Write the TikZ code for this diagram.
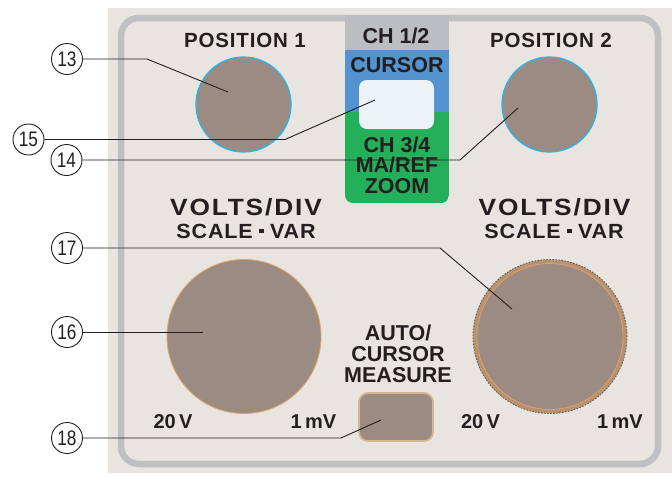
\documentclass[tikz,border=0pt]{standalone}
\usepackage{fontspec}
\usepackage{graphicx}
\setmainfont{Liberation Sans}
\newfontfamily\callfam{Liberation Sans}
\definecolor{beige}{HTML}{E8E4DF}
\definecolor{frame}{HTML}{BEC0C4}
\definecolor{knob}{HTML}{9B8B83}
\definecolor{cyanring}{HTML}{2DB4E6}
\definecolor{orangering}{HTML}{E0A262}
\definecolor{tanring}{HTML}{B89270}
\definecolor{btnedge}{HTML}{D6B690}
\definecolor{chgray}{HTML}{BCBDC1}
\definecolor{chblue}{HTML}{5393D0}
\definecolor{chgreen}{HTML}{24AF5A}
\definecolor{chlight}{HTML}{EBF3F9}
\definecolor{ink}{HTML}{231F20}
\newcommand{\fpos}{\fontsize{20.5}{24}\selectfont\bfseries\addfontfeature{LetterSpace=4}}
\newcommand{\fch}{\fontsize{21.5}{24}\selectfont\bfseries}
\newcommand{\fvolt}{\fontsize{23.5}{26}\selectfont\bfseries\addfontfeature{LetterSpace=7}}
\newcommand{\fscale}{\fontsize{20.5}{24}\selectfont\bfseries\addfontfeature{LetterSpace=4}}
\newcommand{\frange}{\fontsize{20}{24}\selectfont\bfseries}
\newcommand{\fcall}{\fontsize{21}{24}\selectfont\callfam}
\newcommand{\cnum}[1]{\scalebox{0.82}[1]{#1}}
\newcommand{\wide}[1]{\scalebox{1.12}[1]{#1}}
\newcommand{\sdot}{\hspace{0.3em}\raisebox{0.24em}{\rule{0.2em}{0.2em}}\hspace{0.3em}}
\begin{document}
\begin{tikzpicture}[x=1pt,y=-1pt,
  lbl/.style={text=ink, inner sep=0pt, anchor=base},
  callout/.style={circle, draw=ink, line width=0.9pt, fill=white, minimum size=31pt, inner sep=0pt, font=\fcall, text=ink},
  leader/.style={draw=ink, line width=0.9pt},
  smallknob/.style={circle, minimum size=95pt, inner sep=0pt, fill=knob, draw=cyanring, line width=1.3pt},
  bigknob/.style={circle, minimum size=154pt, inner sep=0pt, fill=knob, draw=orangering, line width=0.8pt}]
\useasboundingbox (0,0) rectangle (672,477);
\fill[white] (0,0) rectangle (672,477);
\fill[beige] (108,8) rectangle (672,473);
\draw[frame, line width=6.5pt, rounded corners=18pt] (121,18) rectangle (658,464);
% center block
\begin{scope}
\clip[rounded corners=8pt] (345,0) rectangle (449,203);
\fill[chgray] (345,15) rectangle (449,50);
\fill[chblue] (345,50) rectangle (449,112);
\fill[chgreen] (345,112) rectangle (449,203);
\end{scope}
\node[fill=chlight, rounded corners=8pt, minimum width=75pt, minimum height=49pt, inner sep=0pt] (cursorbtn) at (396.5,104.5) {};
% knobs
\node[smallknob] (pos1knob) at (243.5,104.5) {};
\node[smallknob] (pos2knob) at (549.5,104.5) {};
\node[bigknob] (volt1) at (244,336.5) {};
\node[circle, minimum size=154pt, inner sep=0pt, fill=tanring, draw=ink!75, dash pattern=on 1.5pt off 1.5pt, line width=0.8pt] (volt2) at (550,336.5) {};
\node[circle, minimum size=146pt, inner sep=0pt, fill=knob, draw=orangering, line width=0.8pt] (volt2in) at (550,336.5) {};
\node[rounded corners=9pt, minimum width=74pt, minimum height=48pt, inner sep=0pt, fill=knob, draw=btnedge, line width=1.8pt] (measure) at (396,417) {};
% labels
\node[lbl, font=\fpos] (pos1) at (245,47) {POSITION 1};
\node[lbl, font=\fpos] (pos2) at (551,47) {POSITION 2};
\node[lbl, font=\fch] (ch12) at (396,43) {CH 1/2};
\node[lbl, font=\fch] (curs) at (397,72) {CURSOR};
\node[lbl, font=\fch] (ch34) at (397,152) {CH 3/4};
\node[lbl, font=\fch] (maref) at (397,172) {MA/REF};
\node[lbl, font=\fch] (zoom) at (397,193) {ZOOM};
\node[lbl, font=\fvolt] (volts1) at (246,215) {\wide{VOLTS/DIV}};
\node[lbl, font=\fscale] (scale1) at (246,238) {\scalebox{1.05}[1]{SCALE\sdot{}VAR}};
\node[lbl, font=\fvolt] (volts2) at (554.5,215) {\wide{VOLTS/DIV}};
\node[lbl, font=\fscale] (scale2) at (554,238) {\scalebox{1.05}[1]{SCALE\sdot{}VAR}};
\node[lbl, font=\fch] (auto) at (398,340) {AUTO/};
\node[lbl, font=\fch] (acurs) at (398,361.5) {CURSOR};
\node[lbl, font=\fch] (ameas) at (398,382) {MEASURE};
\node[lbl, font=\frange] (r20a) at (173,428) {20\,V};
\node[lbl, font=\frange] (r1a) at (313.5,428) {1\,mV};
\node[lbl, font=\frange] (r20b) at (480.5,428) {20\,V};
\node[lbl, font=\frange] (r1b) at (620,428) {1\,mV};
% callouts
\node[callout] (c13) at (67,59) {\cnum{13}};
\node[callout] (c15) at (28.5,139.5) {\cnum{15}};
\node[callout] (c14) at (66.5,160) {\cnum{14}};
\node[callout] (c17) at (67,248) {\cnum{17}};
\node[callout] (c16) at (67,332) {\cnum{16}};
\node[callout] (c18) at (67,438) {\cnum{18}};
\coordinate (b13) at (147,59);   \coordinate (e13) at (228,92);
\coordinate (b15) at (285,139.5); \coordinate (e15) at (375,100);
\coordinate (b14) at (460,160);  \coordinate (e14) at (518,108);
\coordinate (b17) at (440,248);  \coordinate (e17) at (512,309);
\coordinate (e16) at (203,332);
\coordinate (b18) at (341,438);  \coordinate (e18) at (381,420);
\draw[leader] (c13.east) -- (b13) -- (e13);
\draw[leader] (c15.east) -- (b15) -- (e15);
\draw[leader] (c14.east) -- (b14) -- (e14);
\draw[leader] (c17.east) -- (b17) -- (e17);
\draw[leader] (c16.east) -- (e16);
\draw[leader] (c18.east) -- (b18) -- (e18);
\end{tikzpicture}
\end{document}
